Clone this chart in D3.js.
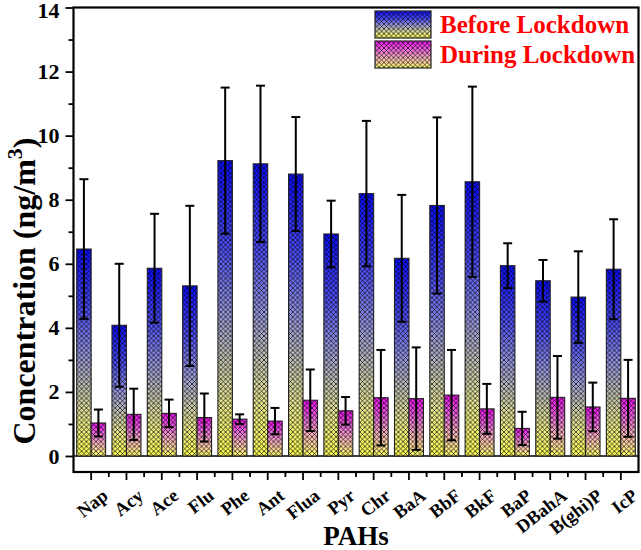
<!DOCTYPE html>
<html><head><meta charset="utf-8">
<script src="https://cdn.jsdelivr.net/npm/d3@7/dist/d3.min.js"></script>
<style>
html,body{margin:0;padding:0;background:#fff;}
svg{display:block;}
text{font-family:"Liberation Serif","Times New Roman",serif;font-weight:bold;}
</style></head>
<body>
<svg id="chart" width="641" height="550"></svg>
<script>
const categories = ["Nap","Acy","Ace","Flu","Phe","Ant","Flua","Pyr","Chr","BaA","BbF","BkF","BaP","DBahA","B(ghi)P","IcP"];
const seriesNames = ["Before Lockdown","During Lockdown"];
const beforeValues = [6.46,4.08,5.86,5.31,9.22,9.12,8.80,6.93,8.19,6.17,7.82,8.56,5.94,5.47,4.96,5.83];
const beforeErrors = [2.18,1.92,1.70,2.50,2.28,2.44,1.78,1.04,2.27,1.98,2.75,2.97,0.70,0.65,1.43,1.56];
const duringValues = [1.03,1.30,1.33,1.20,1.15,1.09,1.74,1.41,1.82,1.79,1.90,1.47,0.86,1.83,1.53,1.80];
const duringErrors = [0.42,0.80,0.43,0.75,0.15,0.41,0.96,0.43,1.49,1.60,1.41,0.78,0.52,1.29,0.76,1.20];
const yMajorTicks = [0,2,4,6,8,10,12,14];
const yMinorTicks = [1,3,5,7,9,11,13];

(function(){
const svg = d3.select("#chart");
const mLeft = 73.5, mRight = 638.5, mTop = 7.5, mBottom = 472;

const x0 = d3.scaleBand().domain(categories).range([mLeft, mRight]).padding(0);
const x1 = d3.scaleBand().domain(seriesNames).range([x0.bandwidth()*0.09, x0.bandwidth()*0.91]).padding(0);
const y = d3.scaleLinear().domain([-0.5, 14]).range([mBottom, mTop]);

const defs = svg.append("defs");
function grad(id, stops){
  const g = defs.append("linearGradient").attr("id", id).attr("x1",0).attr("y1",0).attr("x2",0).attr("y2",1);
  stops.forEach(s => g.append("stop").attr("offset", s[0]).attr("stop-color", s[1]));
}
grad("gBefore", [[0,"#0c0cff"],[0.3,"#5050f4"],[0.5,"#9494e0"],[0.65,"#bcbcb8"],[0.82,"#e8e890"],[1,"#ffff55"]]);
grad("gDuring", [[0,"#f010f0"],[0.35,"#f070e0"],[0.6,"#f8b0c0"],[0.8,"#ffd8a0"],[1,"#ffff66"]]);
const pat = defs.append("pattern").attr("id","mesh").attr("patternUnits","userSpaceOnUse")
  .attr("width",4.8).attr("height",4.8);
pat.append("path").attr("d","M0,0L4.8,4.8M4.8,0L0,4.8")
  .attr("stroke","#000").attr("stroke-opacity",0.75).attr("stroke-width",0.9).attr("fill","none");

const seriesData = [
  {name: seriesNames[0], values: beforeValues, errors: beforeErrors, grad: "url(#gBefore)"},
  {name: seriesNames[1], values: duringValues, errors: duringErrors, grad: "url(#gDuring)"}
];

svg.append("line").attr("x1", mLeft).attr("x2", mRight).attr("y1", y(0)).attr("y2", y(0))
  .attr("stroke","#000").attr("stroke-width",1.6);

const barG = svg.append("g");
seriesData.forEach(s => {
  categories.forEach((c, i) => {
    const bx = x0(c) + x1(s.name), bw = x1.bandwidth();
    const by = y(s.values[i]), bh = y(0) - y(s.values[i]);
    barG.append("rect").attr("x", bx).attr("y", by).attr("width", bw).attr("height", bh).attr("fill", s.grad);
    barG.append("rect").attr("x", bx).attr("y", by).attr("width", bw).attr("height", bh).attr("fill", "url(#mesh)")
      .attr("stroke","#222").attr("stroke-width",1.1);
  });
});
const errG = svg.append("g").attr("stroke","#000").attr("stroke-width",2);
seriesData.forEach(s => {
  categories.forEach((c, i) => {
    const cx = x0(c) + x1(s.name) + x1.bandwidth()/2;
    const hi = y(s.values[i] + s.errors[i]), lo = y(s.values[i] - s.errors[i]);
    errG.append("line").attr("x1",cx).attr("x2",cx).attr("y1",hi).attr("y2",lo);
    errG.append("line").attr("x1",cx-4.5).attr("x2",cx+4.5).attr("y1",hi).attr("y2",hi);
    errG.append("line").attr("x1",cx-4.5).attr("x2",cx+4.5).attr("y1",lo).attr("y2",lo);
  });
});

svg.append("rect").attr("x", mLeft).attr("y", mTop).attr("width", mRight-mLeft).attr("height", mBottom-mTop)
  .attr("fill","none").attr("stroke","#000").attr("stroke-width",2.2);

const yAxis = svg.append("g").attr("transform", `translate(${mLeft},0)`)
  .call(d3.axisLeft(y).tickValues(yMajorTicks).tickSize(8).tickPadding(6).tickFormat(d3.format("d")));
yAxis.select(".domain").remove();
yAxis.selectAll(".tick line").attr("stroke-width",1.8);
yAxis.selectAll(".tick text").attr("font-size",22).attr("fill","#000")
  .style("font-family",'"Liberation Serif","Times New Roman",serif').style("font-weight","bold");
yAxis.selectAll(".tick text").filter(d => d === 14).attr("dy","0.44em");
const yMinor = svg.append("g").attr("transform", `translate(${mLeft},0)`)
  .call(d3.axisLeft(y).tickValues(yMinorTicks).tickSize(5).tickFormat(""));
yMinor.select(".domain").remove();
yMinor.selectAll(".tick line").attr("stroke-width",1.8);

const xAxis = svg.append("g").attr("transform", `translate(0,${mBottom})`)
  .call(d3.axisBottom(x0).tickSize(8).tickFormat(""));
xAxis.select(".domain").remove();
xAxis.selectAll(".tick line").attr("stroke-width",1.8);
const xMinor = svg.append("g").attr("transform", `translate(0,${mBottom})`);
categories.slice(0, -1).forEach(c => {
  const bx = x0(c) + x0.bandwidth();
  xMinor.append("line").attr("x1",bx).attr("x2",bx).attr("y1",0).attr("y2",5).attr("stroke","#000").attr("stroke-width",1.8);
});
const xLab = svg.append("g");
categories.forEach(c => {
  const cx = x0(c) + x0.bandwidth()/2;
  xLab.append("text").attr("transform", `translate(${cx+18},${498}) rotate(-38)`)
    .attr("text-anchor","end").attr("font-size",18.5).attr("fill","#000").text(c);
});

const yt = svg.append("text").attr("transform", "translate(35,291) rotate(-90)")
  .attr("text-anchor","middle").attr("font-size",32).attr("fill","#000");
yt.append("tspan").text("Concentration (ng/m");
yt.append("tspan").attr("font-size",22).attr("dy",-13).text("3");
yt.append("tspan").attr("dy",13).text(")");
svg.append("text").attr("x", (mLeft+mRight)/2).attr("y", 545).attr("text-anchor","middle")
  .attr("font-size",27).attr("fill","#000").text("PAHs");

const lg = svg.append("g");
seriesData.forEach((s, i) => {
  const ly = 11 + i*30;
  lg.append("rect").attr("x",375).attr("y",ly).attr("width",56).attr("height",27).attr("fill",s.grad);
  lg.append("rect").attr("x",375).attr("y",ly).attr("width",56).attr("height",27).attr("fill","url(#mesh)")
    .attr("stroke","#222").attr("stroke-width",1.2);
  lg.append("text").attr("x",440).attr("y",ly+22).attr("font-size",25).attr("fill","#ff0000").text(s.name);
});
})();
</script>
</body></html>
